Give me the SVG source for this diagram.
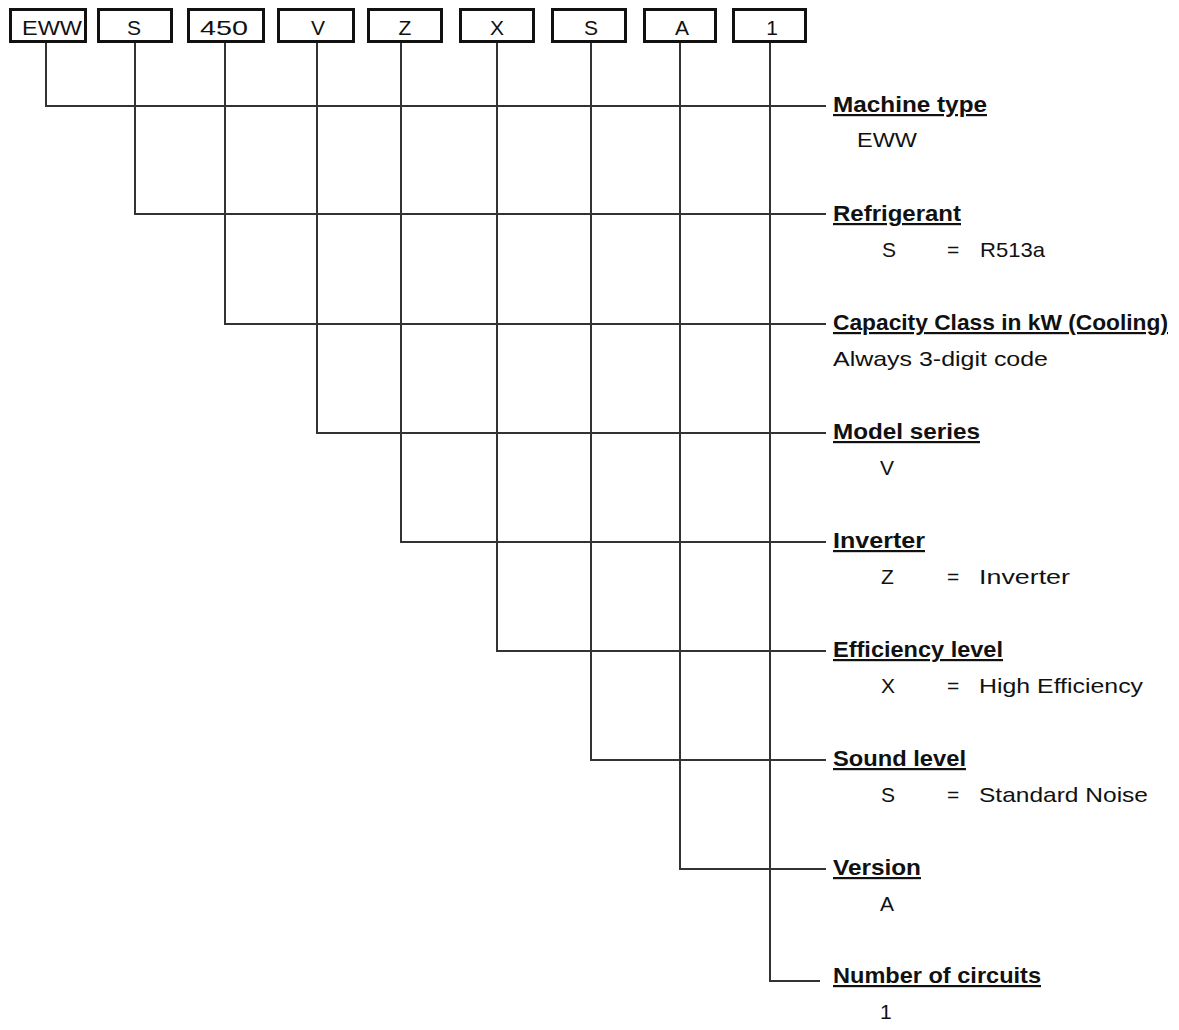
<svg xmlns="http://www.w3.org/2000/svg" width="1179" height="1030" viewBox="0 0 1179 1030">
<style>
.box{fill:#fff;stroke:#111;stroke-width:3}
.bt{font-family:"Liberation Sans",Arial,sans-serif;font-size:21px;fill:#111;text-anchor:middle}
.h{font-family:"Liberation Sans",Arial,sans-serif;font-size:22px;font-weight:bold;fill:#111;text-decoration:underline}
.v{font-family:"Liberation Sans",Arial,sans-serif;font-size:21px;fill:#111}
.c{fill:none;stroke:#333;stroke-width:2}
</style>
<rect width="1179" height="1030" fill="#fff"/>
<g id="connectors">
<path class="c" d="M46 43V106H826"/>
<path class="c" d="M135 43V214H826"/>
<path class="c" d="M225 43V324H826"/>
<path class="c" d="M317 43V433H826"/>
<path class="c" d="M401 43V542H826"/>
<path class="c" d="M497 43V651H826"/>
<path class="c" d="M591 43V760H826"/>
<path class="c" d="M680 43V869H826"/>
<path class="c" d="M770 43V981H820"/>
</g>
<g id="box-eww"><rect class="box" x="10.5" y="9.5" width="75" height="32"/><text class="bt" x="52" y="35" textLength="60" lengthAdjust="spacingAndGlyphs">EWW</text></g>
<g id="box-s1"><rect class="box" x="98.5" y="9.5" width="73" height="32"/><text class="bt" x="134" y="35">S</text></g>
<g id="box-450"><rect class="box" x="188.5" y="9.5" width="75" height="32"/><text class="bt" x="224" y="35" textLength="48" lengthAdjust="spacingAndGlyphs">450</text></g>
<g id="box-v"><rect class="box" x="278.5" y="9.5" width="75" height="32"/><text class="bt" x="318" y="35">V</text></g>
<g id="box-z"><rect class="box" x="368.5" y="9.5" width="73" height="32"/><text class="bt" x="405" y="35">Z</text></g>
<g id="box-x"><rect class="box" x="460.5" y="9.5" width="73" height="32"/><text class="bt" x="497" y="35">X</text></g>
<g id="box-s2"><rect class="box" x="552.5" y="9.5" width="73" height="32"/><text class="bt" x="591" y="35">S</text></g>
<g id="box-a"><rect class="box" x="644.5" y="9.5" width="71" height="32"/><text class="bt" x="682" y="35">A</text></g>
<g id="box-1"><rect class="box" x="733.5" y="9.5" width="72" height="32"/><text class="bt" x="772" y="35">1</text></g>

<g id="label-machine-type"><text class="h" x="833" y="112" textLength="154" lengthAdjust="spacingAndGlyphs">Machine type</text><text class="v" x="857" y="147" textLength="60" lengthAdjust="spacingAndGlyphs">EWW</text></g>
<g id="label-refrigerant"><text class="h" x="833" y="221" textLength="128" lengthAdjust="spacingAndGlyphs">Refrigerant</text><text class="v" x="882" y="257">S</text><text class="v" x="947" y="257">=</text><text class="v" x="980" y="257" textLength="65" lengthAdjust="spacingAndGlyphs">R513a</text></g>
<g id="label-capacity"><text class="h" x="833" y="330" textLength="335" lengthAdjust="spacingAndGlyphs">Capacity Class in kW (Cooling)</text><text class="v" x="833" y="366" textLength="215" lengthAdjust="spacingAndGlyphs">Always 3-digit code</text></g>
<g id="label-model-series"><text class="h" x="833" y="439" textLength="147" lengthAdjust="spacingAndGlyphs">Model series</text><text class="v" x="880" y="475">V</text></g>
<g id="label-inverter"><text class="h" x="833" y="548" textLength="92" lengthAdjust="spacingAndGlyphs">Inverter</text><text class="v" x="881" y="584">Z</text><text class="v" x="947" y="584">=</text><text class="v" x="979" y="584" textLength="91" lengthAdjust="spacingAndGlyphs">Inverter</text></g>
<g id="label-efficiency"><text class="h" x="833" y="657" textLength="170" lengthAdjust="spacingAndGlyphs">Efficiency level</text><text class="v" x="881" y="693">X</text><text class="v" x="947" y="693">=</text><text class="v" x="979" y="693" textLength="164" lengthAdjust="spacingAndGlyphs">High Efficiency</text></g>
<g id="label-sound"><text class="h" x="833" y="766" textLength="133" lengthAdjust="spacingAndGlyphs">Sound level</text><text class="v" x="881" y="802">S</text><text class="v" x="947" y="802">=</text><text class="v" x="979" y="802" textLength="169" lengthAdjust="spacingAndGlyphs">Standard Noise</text></g>
<g id="label-version"><text class="h" x="833" y="875" textLength="88" lengthAdjust="spacingAndGlyphs">Version</text><text class="v" x="880" y="911">A</text></g>
<g id="label-circuits"><text class="h" x="833" y="983" textLength="208" lengthAdjust="spacingAndGlyphs">Number of circuits</text><text class="v" x="880" y="1019">1</text></g>
</svg>
